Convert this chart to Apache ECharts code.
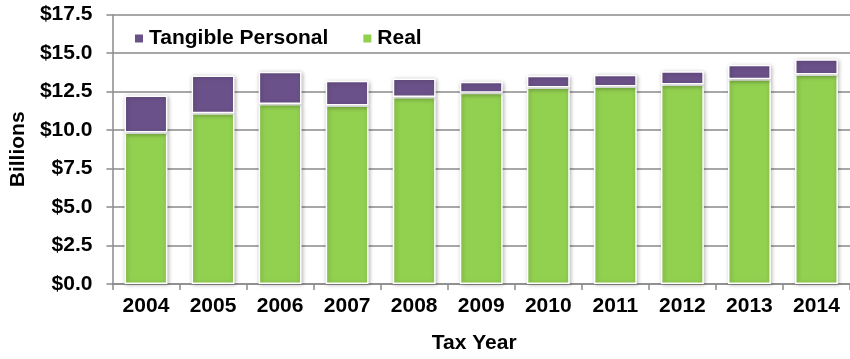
<!DOCTYPE html>
<html>
<head>
<meta charset="utf-8">
<script src="https://cdn.jsdelivr.net/npm/echarts@6/dist/echarts.min.js"></script>
<style>
  html, body { margin: 0; padding: 0; background: #fff; }
  #chart { width: 850px; height: 359px; }
</style>
</head>
<body>
<div id="chart"></div>
<script>
// Assessed value by tax year, billions of dollars
const years = ['2004', '2005', '2006', '2007', '2008', '2009', '2010', '2011', '2012', '2013', '2014'];
const realValues = [9.85, 11.1, 11.7, 11.6, 12.15, 12.42, 12.77, 12.83, 12.96, 13.3, 13.62];
const tangiblePersonalValues = [2.4, 2.45, 2.1, 1.6, 1.2, 0.73, 0.77, 0.77, 0.86, 0.94, 0.98];
const yTicks = [0, 2.5, 5, 7.5, 10, 12.5, 15, 17.5];

const font = 'Liberation Sans, Arial, sans-serif';
const axisGray = '#8a8a8a';
const labelSize = 21;

const barStyle = (color) => ({
  color: color,
  borderColor: '#ffffff',
  borderWidth: 1.5,
  shadowColor: 'rgba(0,0,0,0.28)',
  shadowBlur: 4,
  shadowOffsetX: 1,
  shadowOffsetY: 1
});

const chart = echarts.init(document.getElementById('chart'), null, { renderer: 'canvas' });
chart.setOption({
  animation: false,
  textStyle: { fontFamily: font },
  grid: { left: 107, top: 14.7, width: 746, height: 272 },
  legend: {
    left: 128, top: 23,
    itemWidth: 10, itemHeight: 10, itemGap: 33,
    icon: 'rect',
    data: ['Tangible Personal', 'Real'],
    textStyle: { fontFamily: font, fontSize: labelSize, fontWeight: 'bold', color: '#000' }
  },
  xAxis: {
    type: 'category',
    data: years,
    name: 'Tax Year',
    nameLocation: 'middle',
    nameGap: 49,
    nameTextStyle: { fontFamily: font, fontSize: labelSize, fontWeight: 'bold', color: '#000', padding: [0, 14, 0, 0] },
    axisLine: { lineStyle: { color: axisGray, width: 1.5 } },
    axisTick: { show: true, length: 6, lineStyle: { color: axisGray, width: 1.5 } },
    axisLabel: { margin: 12, fontFamily: font, fontSize: labelSize, fontWeight: 'bold', color: '#000' }
  },
  yAxis: {
    type: 'value',
    min: 0, max: 17.5, interval: 2.5,
    name: 'Billions',
    nameLocation: 'middle',
    nameGap: 82,
    nameTextStyle: { fontFamily: font, fontSize: labelSize, fontWeight: 'bold', color: '#000' },
    axisLine: { show: true, lineStyle: { color: axisGray, width: 1.5 } },
    axisTick: { show: true, length: 6, lineStyle: { color: axisGray, width: 1.5 } },
    splitLine: { lineStyle: { color: axisGray, width: 1.5 } },
    axisLabel: {
      margin: 20, fontFamily: font, fontSize: labelSize, fontWeight: 'bold', color: '#000',
      formatter: (v) => yTicks.includes(v) ? '$' + v.toFixed(1) : ''
    }
  },
  series: [
    {
      name: 'Real',
      type: 'bar',
      stack: 'total',
      barWidth: '64%',
      data: realValues,
      itemStyle: barStyle('#92d050')
    },
    {
      name: 'Tangible Personal',
      type: 'bar',
      stack: 'total',
      barWidth: '64%',
      data: tangiblePersonalValues,
      itemStyle: barStyle('#6b5189')
    }
  ]
});
</script>
</body>
</html>
